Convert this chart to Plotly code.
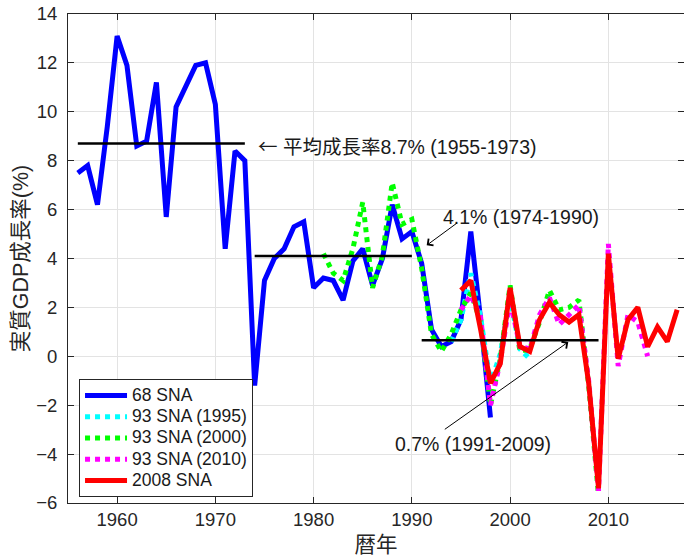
import plotly.graph_objects as go

# ---- data ----
years_68 = list(range(1956, 1999))
gdp_68 = [7.5, 7.8, 6.2, 9.4, 13.1, 11.9, 8.6, 8.8, 11.2, 5.7,
          10.2, 11.1, 11.9, 12.0, 10.3, 4.4, 8.4, 8.0, -1.2, 3.1,
          4.0, 4.4, 5.3, 5.5, 2.8, 3.2, 3.1, 2.3, 3.9, 4.4,
          2.9, 4.0, 6.2, 4.8, 5.1, 3.8, 1.1, 0.4, 0.6, 1.5,
          5.1, 1.5, -2.5]

years_93_1995 = list(range(1994, 2003))
gdp_93_1995 = [0.6, 1.5, 3.4, 1.6, -1.1, 0.1, 2.4, 0.3, -0.1]

years_93_2000 = list(range(1981, 2010))
gdp_93_2000 = [4.2, 3.4, 3.1, 4.4, 6.3, 2.8, 4.1, 7.1, 5.4, 5.6,
               3.6, 0.9, 0.2, 0.9, 1.9, 2.6, 1.4, -2.0, -0.1, 2.9,
               0.2, 0.3, 1.4, 2.7, 1.9, 2.0, 2.3, -1.2, -5.7]

years_93_2010 = list(range(1995, 2015))
gdp_93_2010 = [1.9, 2.5, 1.6, -2.0, -0.2, 2.3, 0.4, 0.3, 1.7, 2.4,
               1.3, 1.7, 2.1, -1.0, -5.5, 4.6, -0.4, 1.7, 1.4, 0.0]

years_2008 = list(range(1995, 2018))
gdp_2008 = [2.7, 3.1, 1.1, -1.1, -0.3, 2.8, 0.4, 0.2, 1.5, 2.2,
            1.7, 1.4, 1.7, -1.1, -5.4, 4.2, -0.1, 1.5, 2.0, 0.4,
            1.2, 0.6, 1.9]

period_starts = [1956, 1974, 1991]
period_ends = [1973, 1990, 2009]
period_means = [8.7, 4.1, 0.66]

series_names = ["68 SNA", "93 SNA (1995)", "93 SNA (2000)", "93 SNA (2010)", "2008 SNA"]
series_colors = ["#0000ff", "#00ffff", "#00ff00", "#ff00ff", "#ff0000"]
series_dash = ["solid", "dot", "dot", "dot", "solid"]

x_ticks = [1960, 1970, 1980, 1990, 2000, 2010]
y_ticks = list(range(-6, 15, 2))

FONT = "Liberation Sans, Arial, Noto Sans CJK JP, sans-serif"
CJK = "Noto Sans CJK JP"
INK = "#262626"

fig = go.Figure()
all_x = [years_68, years_93_1995, years_93_2000, years_93_2010, years_2008]
all_y = [gdp_68, gdp_93_1995, gdp_93_2000, gdp_93_2010, gdp_2008]
for xs, ys, name, col, dash in zip(all_x, all_y, series_names, series_colors, series_dash):
    fig.add_trace(go.Scatter(x=xs, y=ys, mode="lines",
                             name=f"<span style='font-size:17.5px'>{name}</span>",
                             line=dict(color=col, width=5, dash=dash)))

for s, e, m in zip(period_starts, period_ends, period_means):
    fig.add_trace(go.Scatter(x=[s, e], y=[m, m], mode="lines", showlegend=False,
                             line=dict(color="black", width=2.5), hoverinfo="skip"))

ann_font = dict(family=FONT, size=19.5, color="#1a1a1a")
fig.add_annotation(x=1974.13, y=8.63, xref="x", yref="y",
                   text=f"<span style='font-family:{CJK}'>←</span> 平均成長率8.7% (1955-1973)",
                   showarrow=False, xanchor="left", yanchor="middle", font=ann_font)
fig.add_annotation(x=1992.93, y=5.70, xref="x", yref="y", text="4.1% (1974-1990)",
                   showarrow=False, xanchor="left", yanchor="middle", font=ann_font)
fig.add_annotation(x=1988.05, y=-3.57, xref="x", yref="y", text="0.7% (1991-2009)",
                   showarrow=False, xanchor="left", yanchor="middle", font=ann_font)
# arrows
fig.add_annotation(x=1991.51, y=4.54, ax=1994.73, ay=5.49, xref="x", yref="y",
                   axref="x", ayref="y", text="", showarrow=True, arrowhead=4,
                   arrowsize=1.6, arrowwidth=1, arrowcolor="black")
fig.add_annotation(x=2005.92, y=0.585, ax=1993.2, ay=-3.03, xref="x", yref="y",
                   axref="x", ayref="y", text="", showarrow=True, arrowhead=4,
                   arrowsize=1.6, arrowwidth=1, arrowcolor="black")

axis_common = dict(showgrid=True, gridcolor="#e3e3e3", gridwidth=1,
                   showline=True, linecolor=INK, linewidth=1,
                   ticks="inside", ticklen=6, tickcolor=INK, mirror="ticks",
                   zeroline=False, tickfont=dict(family=FONT, size=18.5, color=INK))

fig.update_xaxes(range=[1955, 2017.7], tickvals=x_ticks,
                 title=dict(text="暦年", font=dict(family=FONT, size=21.5, color=INK), standoff=7),
                 **axis_common)
fig.update_yaxes(range=[-6, 14], tickvals=y_ticks, ticklabelstandoff=6,
                 title=dict(text="実質GDP成長率(%)", font=dict(family=FONT, size=21.5, color=INK), standoff=1),
                 **axis_common)

fig.update_layout(
    width=684, height=557,
    margin=dict(l=68, r=0, t=14, b=54),
    paper_bgcolor="white", plot_bgcolor="white",
    font=dict(family=FONT, color=INK),
    legend=dict(x=0.0179, y=0.2536, xanchor="left", yanchor="top",
                bgcolor="white", bordercolor=INK, borderwidth=1,
                font=dict(family=FONT, size=14, color="#1a1a1a"),
                tracegroupgap=0, itemwidth=42),
    showlegend=True,
)

fig.write_html("out.html")
